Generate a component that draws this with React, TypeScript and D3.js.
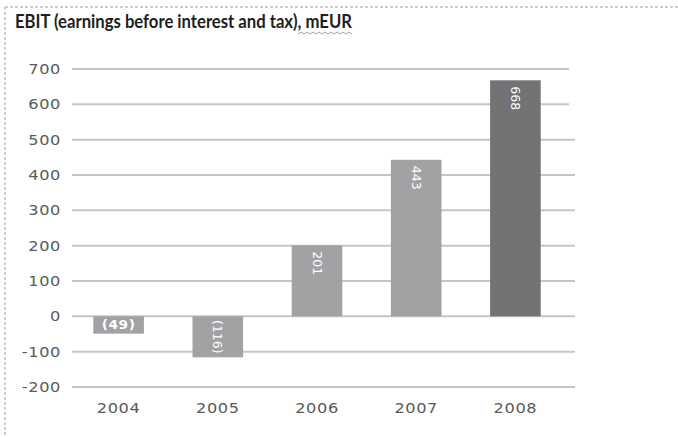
import React from "react";
import * as d3 from "d3";

const years = ["2004", "2005", "2006", "2007", "2008"];
const ebit = [-49, -116, 201, 443, 668];
const labels = ["(49)", "(116)", "201", "443", "668"];
const yTicks = [-200, -100, 0, 100, 200, 300, 400, 500, 600, 700];
const title = "EBIT (earnings before interest and tax), mEUR";

export default function App() {
  const W = 678, H = 437;
  const x = d3.scaleBand<string>().domain(years).range([69, 565]).paddingInner(0.49).paddingOuter(0.245);
  const y = d3.scaleLinear().domain([-200, 700]).range([387, 69]);
  const bw = x.bandwidth();
  const axisFont = "'DejaVu Sans', Verdana, sans-serif";
  const sx = 1.2;

  // wavy underline under mEUR
  const wave = d3.range(0, 19).map((i) => [298 + i * 3, i % 2 === 0 ? 34 : 32] as [number, number]);
  const wavePath = d3.line()(wave) || "";

  return (
    <svg width={W} height={H} style={{ position: "absolute", left: 0, top: 0, background: "#fff" }}>
      <line x1={5} y1={7} x2={W} y2={7} stroke="#999" strokeDasharray="3,2" strokeWidth={1} />
      <line x1={5} y1={7} x2={5} y2={H} stroke="#999" strokeDasharray="3,2" strokeWidth={1} />
      <text x={15} y={28} fontFamily="Lato, 'Open Sans', sans-serif" fontWeight={700} fontSize={19} fill="#1e1e1e"
        textLength={337} lengthAdjust="spacingAndGlyphs">{title}</text>
      <path d={wavePath} fill="none" stroke="#7a8aa0" strokeWidth={0.8} />
      {yTicks.map((t) => (
        <g key={t}>
          <line x1={72} x2={t >= 600 ? 569 : 575} y1={y(t)} y2={y(t)} stroke="#c6c6c6" strokeWidth={2} />
          <text transform={`translate(61,${y(t)}) scale(${sx},1)`} dy="0.36em" textAnchor="end" fontFamily={axisFont} fontSize={13.5}
            letterSpacing={0.5} fill="#5a5a5a">{t}</text>
        </g>
      ))}
      {years.map((yr, i) => {
        const v = ebit[i];
        const x0 = x(yr)!;
        const top = y(Math.max(0, v));
        const bot = y(Math.min(0, v));
        const cx = x0 + bw / 2;
        const fill = i === years.length - 1 ? "#737376" : "#a2a2a5";
        let label;
        if (i === 0) {
          label = (
            <text transform={`translate(${cx},${(top + bot) / 2}) scale(1.1,1)`} dy="0.36em" textAnchor="middle" fontFamily={axisFont} fontSize={12.5}
              fontWeight="bold" letterSpacing={0.5} fill="#fff">{labels[i]}</text>
          );
        } else if (v < 0) {
          const cy = (top + bot) / 2;
          label = (
            <text transform={`translate(${cx},${cy}) rotate(90)`} dy="0.36em" textAnchor="middle" fontFamily={axisFont}
              fontSize={12.5} fill="#fff">{labels[i]}</text>
          );
        } else {
          label = (
            <text transform={`translate(${cx},${top + 6}) rotate(90)`} dy="0.36em" textAnchor="start" fontFamily={axisFont}
              fontSize={12.5} fill="#fff">{labels[i]}</text>
          );
        }
        return (
          <g key={yr}>
            <rect x={x0} y={top} width={bw} height={bot - top} fill={fill} />
            {label}
            <text transform={`translate(${cx},408) scale(${sx},1)`} dy="0.36em" textAnchor="middle" fontFamily={axisFont} fontSize={13.5}
              letterSpacing={0.5} fill="#5a5a5a">{yr}</text>
          </g>
        );
      })}
    </svg>
  );
}
